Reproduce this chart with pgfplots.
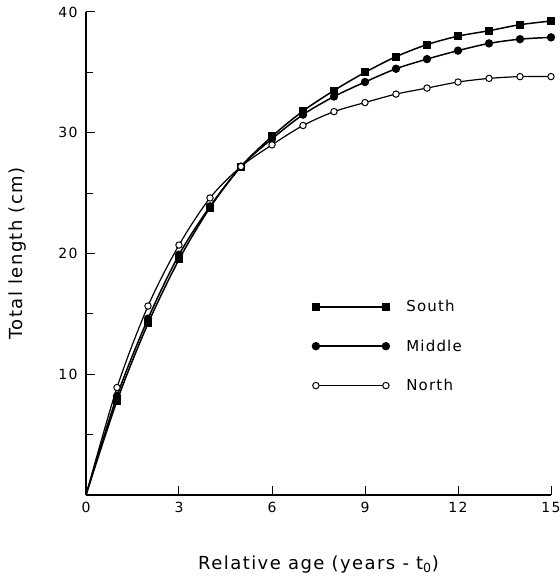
\documentclass[border=0pt]{standalone}
\usepackage{fontspec}
\setmainfont{DejaVu Sans}
\newfontfamily\labfont[LetterSpace=8]{DejaVu Sans}
\newfontfamily\tickfont[LetterSpace=10]{DejaVu Sans}
\usepackage{pgfplots}
\pgfplotsset{compat=1.18}

\begin{document}
\begin{tikzpicture}
\useasboundingbox (-86bp,-81bp) rectangle (474bp,495bp);
\begin{axis}[
    at={(0,0)}, anchor=south west,
    width=465bp, height=483bp, scale only axis,
    xmin=0, xmax=15, ymin=0, ymax=40,
    axis lines*=left,
    axis line style={line width=1.1bp},
    tick align=inside,
    tick style={black, line width=1bp},
    major tick length=9bp, minor tick length=7bp,
    xtick={0,3,...,15},
    ytick={10,20,30,40},
    minor ytick={5,15,25,35},
    /pgf/number format/assume math mode=true,
    ticklabel style={font=\tickfont\fontsize{14bp}{16bp}\selectfont},
    xticklabel style={yshift=-4bp},
    yticklabel style={xshift=-5bp},
    xlabel={Relative age (years - t\textsubscript{0})},
    ylabel={Total length (cm)},
    xlabel style={at={(axis description cs:0.5,-0.143)}, anchor=center,
        font=\labfont\fontsize{18bp}{20bp}\selectfont},
    ylabel style={at={(axis description cs:-0.148,0.5)}, anchor=center,
        font=\labfont\fontsize{18bp}{20bp}\selectfont},
    clip=false,
    legend image code/.code={
        \draw[#1, mark phase=1, mark repeat=1] plot coordinates {(0bp,0bp) (70bp,0bp)};
    },
    legend style={draw=none, fill=none, inner sep=0pt,
        at={(axis cs:7.3,16.3)}, anchor=north west,
        row sep=22.5bp,
        font=\labfont\fontsize{15bp}{17bp}\selectfont,
        /tikz/every odd column/.append style={column sep=15bp}},
    legend cell align=left,
]
% South
\addplot[black, line width=1.5bp, smooth, mark=square*, mark size=3.2bp,
    mark phase=2, mark options={solid}] coordinates {
    (0,0) (1,7.8) (2,14.2) (3,19.5) (4,23.8) (5,27.2) (6,29.7) (7,31.8)
    (8,33.5) (9,35.0) (10,36.3) (11,37.3) (12,38.0) (13,38.45) (14,38.95) (15,39.25)
};
\addlegendentry{South}
% Middle
\addplot[black, line width=1.5bp, smooth, mark=*, mark size=3.4bp,
    mark phase=2, mark options={solid}] coordinates {
    (0,0) (1,8.2) (2,14.6) (3,19.9) (4,23.9) (5,27.2) (6,29.5) (7,31.5)
    (8,33.0) (9,34.2) (10,35.3) (11,36.1) (12,36.8) (13,37.4) (14,37.75) (15,37.9)
};
\addlegendentry{Middle}
% North
\addplot[black, line width=1.2bp, smooth, mark=*, mark size=3.2bp,
    mark phase=2, mark options={solid, fill=white, line width=1bp}] coordinates {
    (0,0) (1,8.9) (2,15.65) (3,20.7) (4,24.6) (5,27.2) (6,29.0) (7,30.6)
    (8,31.75) (9,32.5) (10,33.2) (11,33.7) (12,34.2) (13,34.5) (14,34.65) (15,34.65)
};
\addlegendentry{North}
\end{axis}
\end{tikzpicture}
\end{document}
